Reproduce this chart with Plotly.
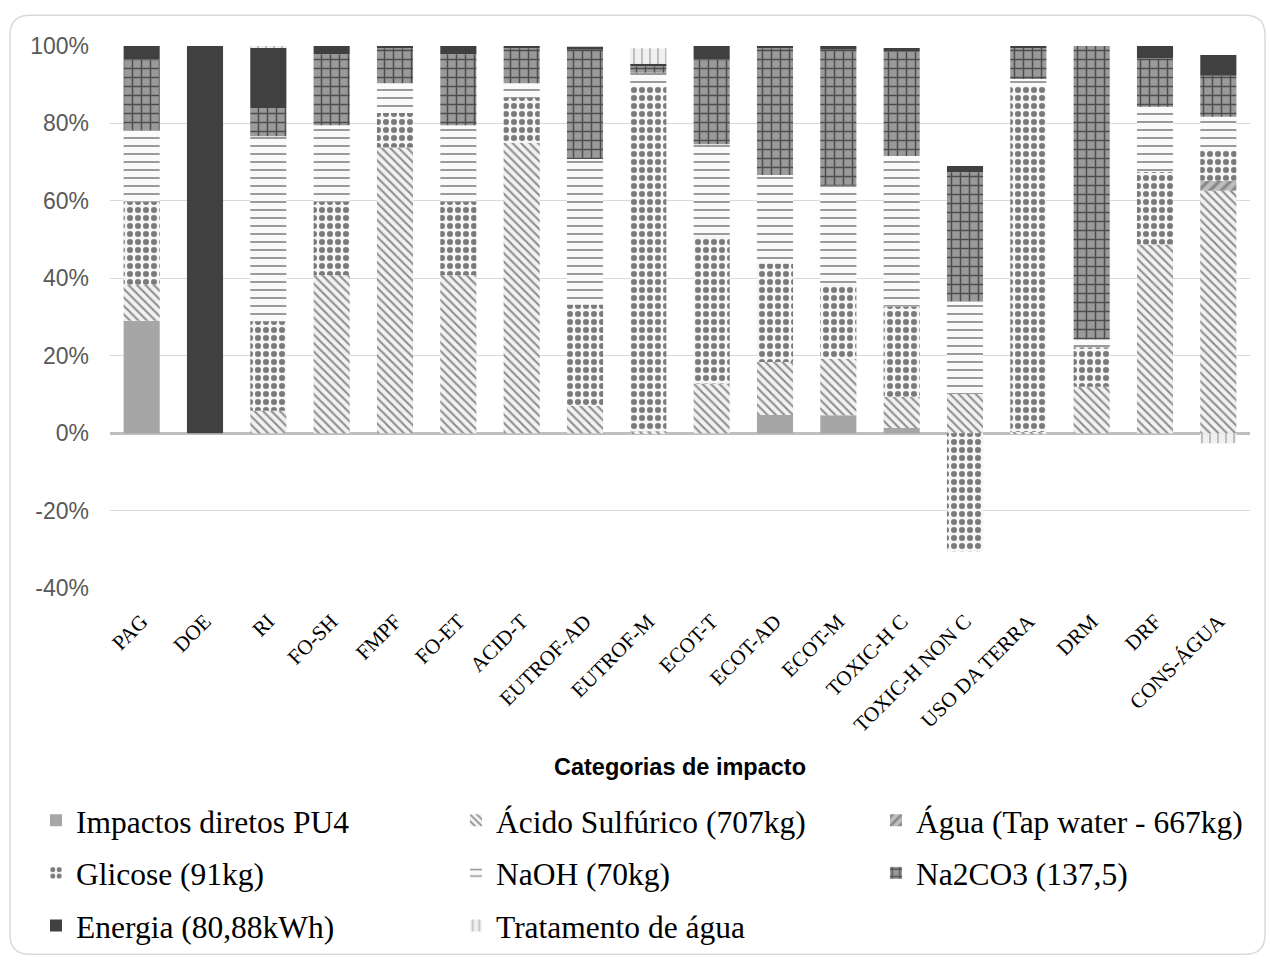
import plotly.graph_objects as go

# Impact categories (x axis)
categorias = ["PAG", "DOE", "RI", "FO-SH", "FMPF", "FO-ET", "ACID-T", "EUTROF-AD",
              "EUTROF-M", "ECOT-T", "ECOT-AD", "ECOT-M", "TOXIC-H C", "TOXIC-H NON C",
              "USO DA TERRA", "DRM", "DRF", "CONS-ÁGUA"]

# Contribution of each input to every category (%)
impactos_diretos = [29.0, 0, 0, 0, 0, 0, 0, 0, 0, 0, 4.7, 4.6, 1.3, 0, 0, 0, 0, 0]
acido_sulfurico = [9.3, 0, 5.8, 40.8, 73.8, 40.8, 75.0, 7.1, 0.5, 12.8, 13.7, 14.6, 8.1, 10.1, 0.3, 12.0, 48.7, 62.6]
agua = [0, 0, 0, 0, 0, 0, 0, 0, 0, 0, 0, 0, 0, 0, 0, 0, 0, 2.6]
glicose = [21.5, 0, 23.1, 19.0, 8.9, 19.0, 11.6, 26.1, 89.0, 37.9, 25.4, 19.1, 23.3, -30.5, 89.5, 10.2, 18.8, 8.1]
naoh = [18.4, 0, 47.8, 19.7, 7.7, 19.7, 3.8, 37.6, 3.6, 23.9, 22.9, 25.6, 38.9, 23.9, 1.7, 2.0, 16.8, 8.4]
na2co3 = [18.4, 0, 7.3, 18.4, 9.0, 18.4, 9.0, 28.2, 1.7, 22.0, 32.7, 35.1, 26.9, 33.4, 8.0, 75.8, 12.5, 10.6]
energia = [3.4, 100, 15.5, 2.1, 0.6, 2.1, 0.6, 0.8, 0.6, 3.4, 0.6, 1.0, 1.0, 1.6, 0.5, 0.3, 3.2, 5.4]
tratamento = [0, 0, 0.5, 0, 0, 0, 0, 0, 4.0, 0, 0, 0, 0, 0, 0, 0, 0, -2.6]

y_ticks = [-40, -20, 0, 20, 40, 60, 80, 100]
y_tick_labels = ["-40%", "-20%", "0%", "20%", "40%", "60%", "80%", "100%"]

# (name, values, marker style)
series = [
    ("Impactos diretos PU4", impactos_diretos, dict(color="#a6a6a6")),
    ("Ácido Sulfúrico (707kg)", acido_sulfurico,
     dict(color="#f2f2f2", pattern=dict(shape="\\", fgcolor="#2a2a2a", bgcolor="#f2f2f2", size=6, solidity=0.35))),
    ("Água (Tap water - 667kg)", agua,
     dict(color="#bdbdbd", pattern=dict(shape="/", fgcolor="#555555", bgcolor="#bdbdbd", size=8, solidity=0.4))),
    ("Glicose (91kg)", glicose,
     dict(color="#f5f5f5", pattern=dict(shape=".", fgcolor="#000000", bgcolor="#f5f5f5", size=8, solidity=0.45))),
    ("NaOH (70kg)", naoh,
     dict(color="#fafafa", pattern=dict(shape="-", fgcolor="#222222", bgcolor="#fafafa", size=8, solidity=0.22))),
    ("Na2CO3 (137,5)", na2co3,
     dict(color="#9a9a9a", pattern=dict(shape="+", fgcolor="#000000", bgcolor="#9a9a9a", size=9, solidity=0.3))),
    ("Energia (80,88kWh)", energia, dict(color="#404040")),
    ("Tratamento de água", tratamento,
     dict(color="#f0f0f0", pattern=dict(shape="|", fgcolor="#8c8c8c", bgcolor="#f0f0f0", size=8, solidity=0.25))),
]

# Pixel geometry of the plot area
W, H = 1270, 964
PL, PR, PT, PB = 110, 1250, 46, 592


def px(x):
    return (x - PL) / (PR - PL)


def py(y):
    return (PB - y) / (PB - PT)


# Legend grid: three columns, three rows
legend_cols = [36, 456, 876]
legend_rows = [826, 879, 932]
legend_font = dict(family="Liberation Serif, Times New Roman", size=31.5, color="#000000")

fig = go.Figure()
legend_layout = {}
for i, (nome, valores, marker) in enumerate(series):
    marker = dict(marker)
    marker["line"] = dict(width=0)
    key = "legend" if i == 0 else f"legend{i + 1}"
    fig.add_trace(go.Bar(name=nome, x=categorias, y=valores, marker=marker, legend=key))
    legend_layout[key] = dict(
        x=px(legend_cols[i % 3]), y=py(legend_rows[i // 3]),
        xanchor="left", yanchor="middle", orientation="v",
        font=legend_font, itemwidth=30, bgcolor="rgba(0,0,0,0)",
    )

# Rounded frame around the whole chart
x0, x1, y0, y1, r = 10, 1265, 15, 961, 20
frame = (f"M {px(x0 + r)},{py(y0)} L {px(x1 - r)},{py(y0)} "
         f"Q {px(x1)},{py(y0)} {px(x1)},{py(y0 + r)} L {px(x1)},{py(y1 - r)} "
         f"Q {px(x1)},{py(y1)} {px(x1 - r)},{py(y1)} L {px(x0 + r)},{py(y1)} "
         f"Q {px(x0)},{py(y1)} {px(x0)},{py(y1 - r)} L {px(x0)},{py(y0 + r)} "
         f"Q {px(x0)},{py(y0)} {px(x0 + r)},{py(y0)} Z")
fig.add_shape(type="path", path=frame, xref="paper", yref="paper",
              line=dict(color="#d9d9d9", width=1.5), layer="below")

fig.add_annotation(text="<b>Categorias de impacto</b>", x=0.5, y=py(772),
                   xref="paper", yref="paper", showarrow=False, xanchor="center", yanchor="middle",
                   font=dict(family="Liberation Sans, Arial", size=23.5, color="#000000"))

fig.update_layout(
    width=W, height=H,
    margin=dict(l=PL, r=W - PR, t=PT, b=H - PB, pad=0),
    paper_bgcolor="white", plot_bgcolor="white",
    barmode="relative", bargap=0.43,
    showlegend=True,
    xaxis=dict(tickangle=-45, showgrid=False, showline=False, ticks="",
               tickfont=dict(family="Liberation Serif, Times New Roman", size=21, color="#000000"),
               ticklabelstandoff=16),
    yaxis=dict(range=[-40, 100], tickvals=y_ticks, ticktext=y_tick_labels,
               showgrid=True, gridcolor="#d9d9d9", gridwidth=1,
               zeroline=True, zerolinecolor="#bfbfbf", zerolinewidth=3,
               showline=False, ticks="",
               tickfont=dict(family="Liberation Sans, Arial", size=23, color="#595959"),
               ticklabelstandoff=20),
    **legend_layout,
)

fig.write_html("out.html")
